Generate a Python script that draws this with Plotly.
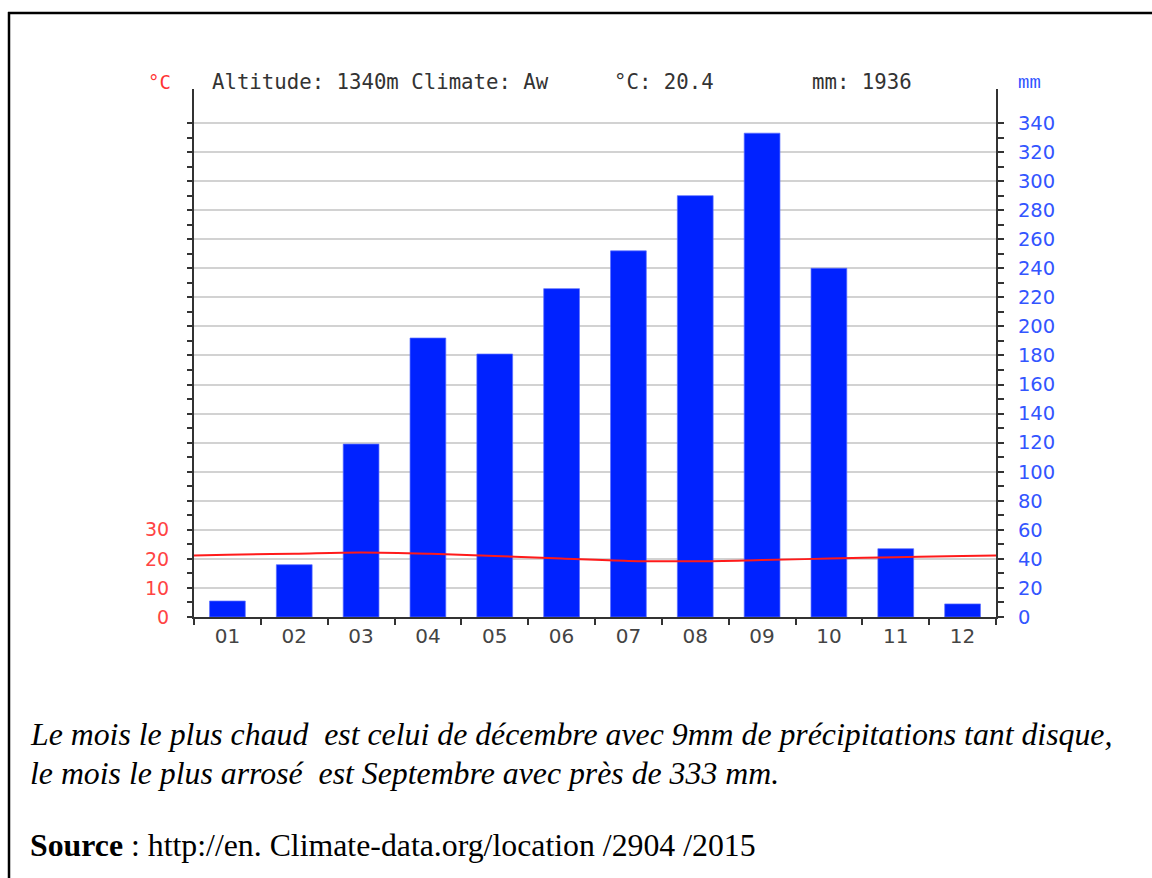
import plotly.graph_objects as go

# ---- data ----
months = ["01", "02", "03", "04", "05", "06", "07", "08", "09", "10", "11", "12"]
precip_mm = [11, 36, 119, 192, 181, 226, 252, 290, 333, 240, 47, 9]
temp_c = [21.4, 21.8, 22.2, 21.8, 21.0, 20.1, 19.3, 19.2, 19.6, 20.1, 20.6, 21.0]
temp_tick_labels = [0, 10, 20, 30]
header = "Altitude: 1340m Climate: Aw"
mean_temp_text = "°C: 20.4"
total_mm_text = "mm: 1936"
caption_line1 = "Le mois le plus chaud \u00a0est celui de décembre avec 9mm de précipitations tant disque,"
caption_line2 = "le mois le plus arrosé \u00a0est Septembre avec près de 333 mm."
source_text = "<b>Source</b> : http://en. Climate-data.org/location /2904 /2015"

# ---- layout geometry (pixels) ----
W, H = 1152, 878
L, R, T, B = 194, 996, 89, 617
MM_MAX = 363.4


def px(x):
    return (x - L) / (R - L)


def py(y):
    return (B - y) / (B - T)


x_pos = list(range(1, len(months) + 1))
edge = (temp_c[0] + temp_c[-1]) / 2
line_x = [0.5] + x_pos + [len(months) + 0.5]
line_y = [edge] + temp_c + [edge]

fig = go.Figure()
fig.add_trace(go.Bar(
    x=x_pos, y=precip_mm, width=0.535,
    marker=dict(color="#0022ff", line=dict(width=1, color="rgba(90,110,255,0.7)")),
    yaxis="y", showlegend=False,
))
fig.add_trace(go.Scatter(
    x=line_x, y=line_y, mode="lines",
    line=dict(color="#ff1a1a", width=2, shape="spline", smoothing=1.0),
    yaxis="y2", showlegend=False,
))

mm_major = list(range(0, 341, 20))
mm_minor = list(range(10, 340, 20))
c_ticks = list(range(0, 171, 5))
c_text = [str(v) if v in temp_tick_labels else "" for v in c_ticks]

fig.update_layout(
    width=W, height=H,
    margin=dict(l=L, r=W - R, t=T, b=H - B, pad=0),
    paper_bgcolor="white", plot_bgcolor="white",
    bargap=0.465,
    xaxis=dict(
        range=[0.5, len(months) + 0.5],
        tickmode="array", tickvals=x_pos, ticktext=months,
        ticks="", showgrid=False, zeroline=False,
        showline=True, linecolor="#333", linewidth=2,
        tickfont=dict(family="DejaVu Sans", size=20, color="#444"),
        minor=dict(tickmode="array", tickvals=[v + 0.5 for v in range(0, len(months) + 1)],
                   ticks="outside", ticklen=6, tickwidth=2, tickcolor="#333", showgrid=False),
    ),
    yaxis=dict(
        side="right", range=[0, MM_MAX],
        tickmode="array", tickvals=mm_major, ticktext=[str(v) for v in mm_major],
        ticks="outside", ticklen=6, tickwidth=2, tickcolor="#333",
        showgrid=True, gridcolor="#d2d2d2", gridwidth=1.5, zeroline=False,
        showline=True, linecolor="#333", linewidth=2,
        tickfont=dict(family="DejaVu Sans", size=19.5, color="#3355ff"),
        ticklabelstandoff=10,
        minor=dict(tickmode="array", tickvals=mm_minor, ticks="outside", ticklen=6,
                   tickwidth=2, tickcolor="#333", showgrid=False),
    ),
    yaxis2=dict(
        overlaying="y", side="left", range=[0, MM_MAX / 2],
        tickmode="array", tickvals=c_ticks, ticktext=c_text,
        ticks="outside", ticklen=5, tickwidth=2, tickcolor="#333",
        showgrid=False, zeroline=False,
        showline=True, linecolor="#333", linewidth=2,
        tickfont=dict(family="DejaVu Sans", size=19, color="#ff4444"),
        ticklabelstandoff=14,
    ),
)

ann = []
ann.append(dict(text="°C", x=px(146), y=py(82), xanchor="left", yanchor="middle",
                font=dict(family="DejaVu Sans Mono", size=19, color="#ff3333")))
ann.append(dict(text=header, x=px(210), y=py(82), xanchor="left", yanchor="middle",
                font=dict(family="DejaVu Sans Mono", size=20.7, color="#333")))
ann.append(dict(text=mean_temp_text, x=px(612), y=py(82), xanchor="left", yanchor="middle",
                font=dict(family="DejaVu Sans Mono", size=20.7, color="#333")))
ann.append(dict(text=total_mm_text, x=px(810), y=py(82), xanchor="left", yanchor="middle",
                font=dict(family="DejaVu Sans Mono", size=20.7, color="#333")))
ann.append(dict(text="mm", x=px(1016), y=py(83), xanchor="left", yanchor="middle",
                font=dict(family="Liberation Mono", size=19, color="#3355ff")))
ann.append(dict(text="<i>" + caption_line1 + "</i>", x=px(28), y=py(734), xanchor="left", yanchor="middle",
                font=dict(family="Liberation Serif", size=31.8, color="black")))
ann.append(dict(text="<i>" + caption_line2 + "</i>", x=px(28), y=py(773), xanchor="left", yanchor="middle",
                font=dict(family="Liberation Serif", size=31.8, color="black")))
ann.append(dict(text=source_text, x=px(28), y=py(845), xanchor="left", yanchor="middle",
                font=dict(family="Liberation Serif", size=31.8, color="black")))
for a in ann:
    a.update(xref="paper", yref="paper", showarrow=False)
fig.update_layout(annotations=ann)

# page border (top and left)
fig.add_shape(type="line", xref="paper", yref="paper", x0=px(8), x1=px(W + 5), y0=py(13), y1=py(13),
              line=dict(color="black", width=2.5))
fig.add_shape(type="line", xref="paper", yref="paper", x0=px(9), x1=px(9), y0=py(12), y1=py(H + 5),
              line=dict(color="black", width=2.5))

fig.write_html("out.html", config={"displayModeBar": False},
               post_script="document.body.style.margin='0px';document.body.style.overflow='hidden';")
